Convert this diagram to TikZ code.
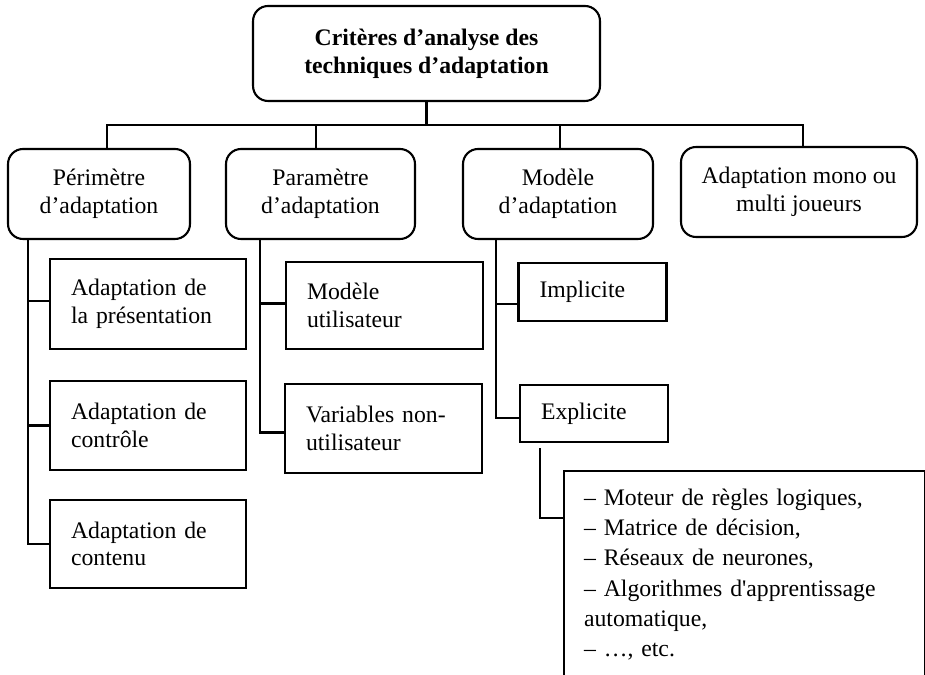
\documentclass[tikz,border=0pt]{standalone}
\usepackage{fontspec}
\setmainfont{Liberation Serif}
\usetikzlibrary{positioning,calc}

\begin{document}
\begin{tikzpicture}[x=0.02cm, y=-0.02cm, line width=1.2pt,
        every node/.style={font=\fontsize{13.5}{15.7}\selectfont},
        crit/.style={draw, rounded corners=0.3cm, align=center, minimum height=1.8cm},
        leaf/.style={draw, align=left, inner xsep=0.42cm}]
    \useasboundingbox (0,0) rectangle (925,675);
    \clip (0,0) rectangle (925,675);

    % root and the four criteria
    \node[crit, minimum width=6.94cm, minimum height=1.9cm, font=\fontsize{13.5}{15.7}\selectfont\bfseries] (top) at (426.5,53.5) {Critères d’analyse des\\techniques d’adaptation};
    \node[crit, minimum width=3.64cm] (per)  at (99,194)  {Périmètre\\d’adaptation};
    \node[crit, minimum width=3.78cm] (par)  at (320.5,194) {Paramètre\\d’adaptation};
    \node[crit, minimum width=3.8cm]  (mod)  at (558,194) {Modèle\\d’adaptation};
    \node[crit, minimum width=4.72cm] (mono) at (799,192) {Adaptation mono ou\\multi joueurs};

    % sub-criteria
    \node[leaf, text width=3.08cm, minimum height=1.8cm]  (pres) at (148,304)   {Adaptation de\\la présentation};
    \node[leaf, text width=3.08cm, minimum height=1.78cm] (ctrl) at (148,425.5) {Adaptation de\\contrôle};
    \node[leaf, text width=3.08cm, minimum height=1.76cm] (cont) at (148,544)   {Adaptation de\\contenu};
    \node[leaf, text width=3.1cm,  minimum height=1.74cm] (user) at (384.5,305.5) {Modèle\\utilisateur};
    \node[leaf, text width=3.1cm,  minimum height=1.78cm] (var)  at (383.5,428.5) {Variables non-\\utilisateur};
    \node[leaf, text width=2.12cm, minimum height=1.16cm] (impl) at (592.5,292) {Implicite};
    \node[leaf, text width=2.12cm, minimum height=1.14cm] (expl) at (594,413.5) {Explicite};
    \node[leaf, text width=6.42cm, inner xsep=0.4cm, inner ysep=0.36cm, anchor=north west,
          font=\fontsize{13.5}{17.2}\selectfont] (list) at (563,470)
          {– Moteur de règles logiques,\\– Matrice de décision,\\– Réseaux de neurones,\\– Algorithmes d\textquotesingle apprentissage\\automatique,\\– …, etc.};

    % tree lines
    \coordinate (bus) at (428,125);
    \draw (top.south) -- (top.south |- bus);
    \draw ([xshift=0.16cm]per.north) |- (bus) -| ([xshift=0.08cm]mono.north); % bus over the criteria
    \draw ([xshift=-0.09cm]par.north) -- ([xshift=-0.09cm]par.north |- bus);
    \draw ([xshift=0.04cm]mod.north) -- ([xshift=0.04cm]mod.north |- bus);

    \draw (per.south -| 28,0) |- (cont.west);              % trunk under Perimetre
    \draw ([yshift=0.06cm]pres.west -| 28,0) -- ([yshift=0.06cm]pres.west);
    \draw (ctrl.west -| 28,0) -- (ctrl.west);

    \draw (par.south -| 260,0) |- ([yshift=-0.08cm]var.west); % trunk under Parametre
    \draw ([yshift=0.04cm]user.west -| 260,0) -- ([yshift=0.04cm]user.west);

    \draw (mod.south -| 496,0) |- ([yshift=-0.09cm]expl.west); % trunk under Modele
    \draw ([yshift=-0.24cm]impl.west -| 496,0) -- ([yshift=-0.24cm]impl.west);

    \draw ([yshift=-0.1cm]expl.south -| 540,0) |- ($(list.north west)+(0,48)$); % Explicite to the list
\end{tikzpicture}
\end{document}
